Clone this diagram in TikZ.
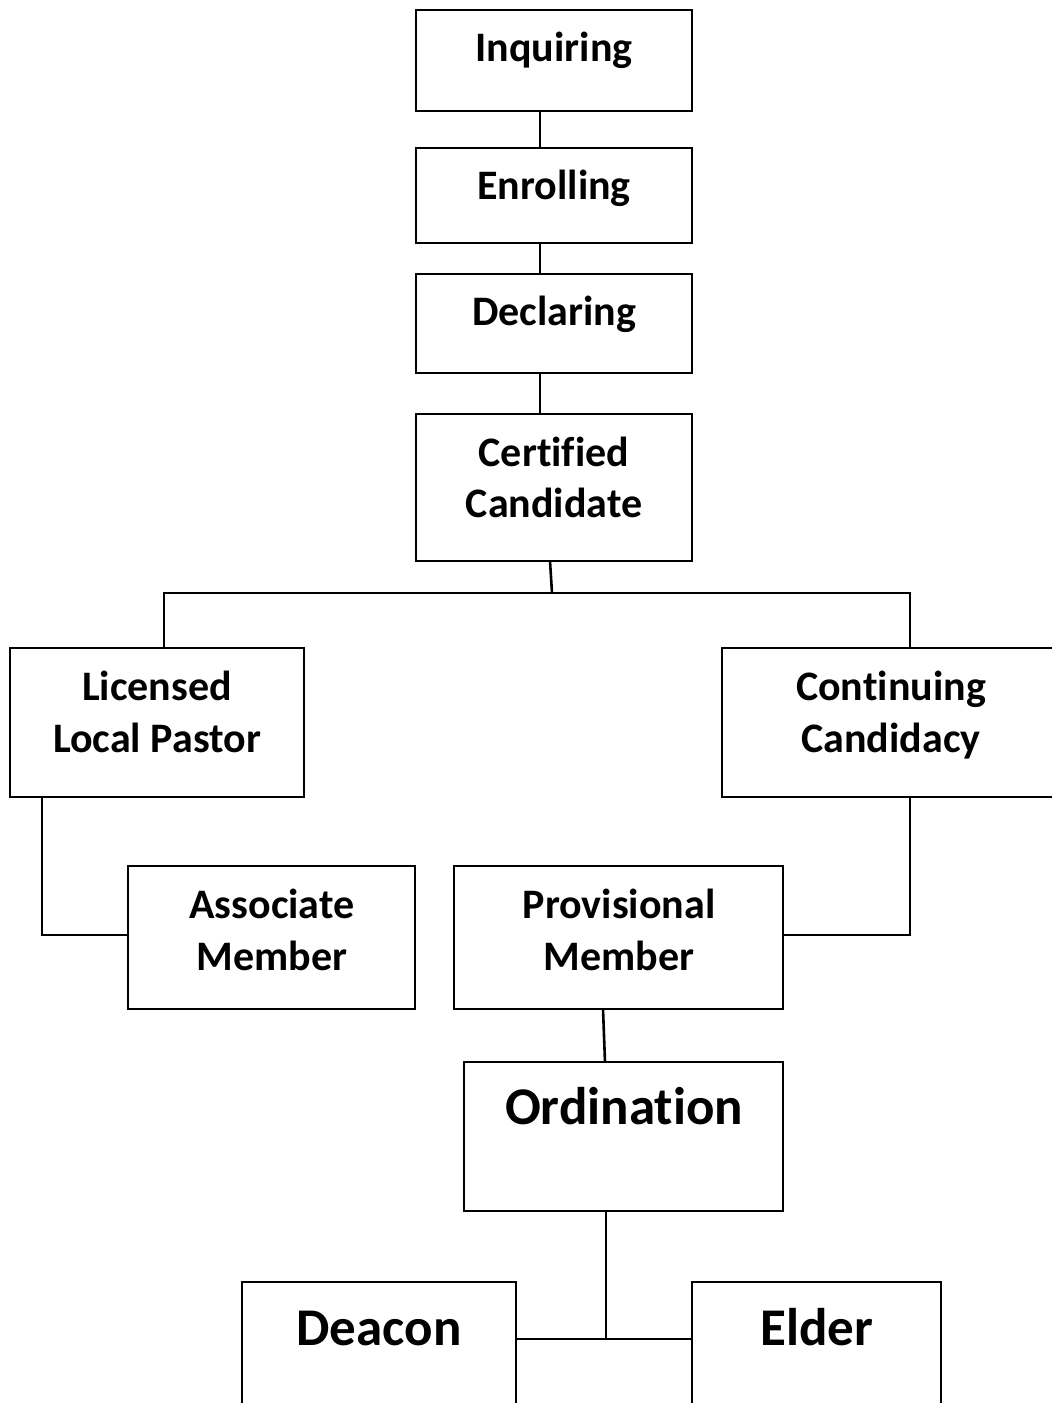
\documentclass[tikz,border=0pt]{standalone}
\usepackage{fontspec}
\setmainfont{Carlito}[Ligatures={NoCommon}]
\begin{document}
\begin{tikzpicture}[x=1pt,y=-1pt,
  box/.style={draw=black, line width=2.6pt, rectangle, inner sep=0pt, outer sep=0pt},
  conn/.style={draw=black, line width=2.6pt},
  lbl/.style={font=\fontsize{42}{51}\selectfont\bfseries, anchor=base, inner sep=0pt},
  big/.style={font=\fontsize{53}{64}\selectfont\bfseries, anchor=base, inner sep=0pt}]
\clip (0,0) rectangle (1052,1403);
\useasboundingbox (0,0) rectangle (1052,1403);
% boxes
\node[box, minimum width=276pt, minimum height=101pt] (inq) at (554,60.5) {};
\node[box, minimum width=276pt, minimum height=95pt] (enr) at (554,195.5) {};
\node[box, minimum width=276pt, minimum height=99pt] (dec) at (554,323.5) {};
\node[box, minimum width=276pt, minimum height=147pt] (cert) at (554,487.5) {};
\node[box, minimum width=294pt, minimum height=149pt] (lic) at (157,722.5) {};
\node[box, minimum width=348pt, minimum height=149pt] (cont) at (896,722.5) {};
\node[box, minimum width=287pt, minimum height=143pt] (assoc) at (271.5,937.5) {};
\node[box, minimum width=329pt, minimum height=143pt] (prov) at (618.5,937.5) {};
\node[box, minimum width=319pt, minimum height=149pt] (ord) at (623.5,1136.5) {};
\node[box, minimum width=274pt, minimum height=150pt] (deac) at (379,1357) {};
\node[box, minimum width=249pt, minimum height=150pt] (eld) at (816.5,1357) {};
% labels
\node[lbl] (tinq) at (554,61) {Inquiring};
\node[lbl] (tenr) at (554,199) {Enrolling};
\node[lbl] (tdec) at (554,325) {Declaring};
\node[lbl] (tcert1) at (554,466) {Certified};
\node[lbl] (tcert2) at (554,517) {Candidate};
\node[lbl] (tlic1) at (157,700) {Licensed};
\node[lbl] (tlic2) at (157,752) {Local Pastor};
\node[lbl] (tcont1) at (891,700) {Continuing};
\node[lbl] (tcont2) at (891,752) {Candidacy};
\node[lbl] (tass1) at (272,918) {Associate};
\node[lbl] (tass2) at (272,970) {Member};
\node[lbl] (tprov1) at (619,918) {Provisional};
\node[lbl] (tprov2) at (619,970) {Member};
\node[big] (tord) at (624,1124) {Ordination};
\node[big] (tdeac) at (379,1345) {Deacon};
\node[big] (teld) at (817,1345) {Elder};
% connectors
\coordinate (bc) at (552,593);
\coordinate (ob) at (606,1339);
\draw[conn] (inq.south -| 540,0) -- (enr.north -| 540,0);
\draw[conn] (enr.south -| 540,0) -- (dec.north -| 540,0);
\draw[conn] (dec.south -| 540,0) -- (cert.north -| 540,0);
\draw[conn] ([xshift=-4pt]cert.south) -- (bc);
\draw[conn] ([xshift=7pt]lic.north) |- (bc) -| ([xshift=-160pt]cont.north east);
\draw[conn] ([xshift=32pt]lic.south west) |- ([yshift=2.5pt]assoc.west);
\draw[conn] ([xshift=188pt]cont.south west) |- ([yshift=2.5pt]prov.east);
\draw[conn] ([xshift=-15.5pt]prov.south) -- ([xshift=-18.5pt]ord.north);
\draw[conn] ([xshift=-17.5pt]ord.south) -- (ob);
\draw[conn] (deac.east |- ob) -- (eld.west |- ob);
\end{tikzpicture}
\end{document}
